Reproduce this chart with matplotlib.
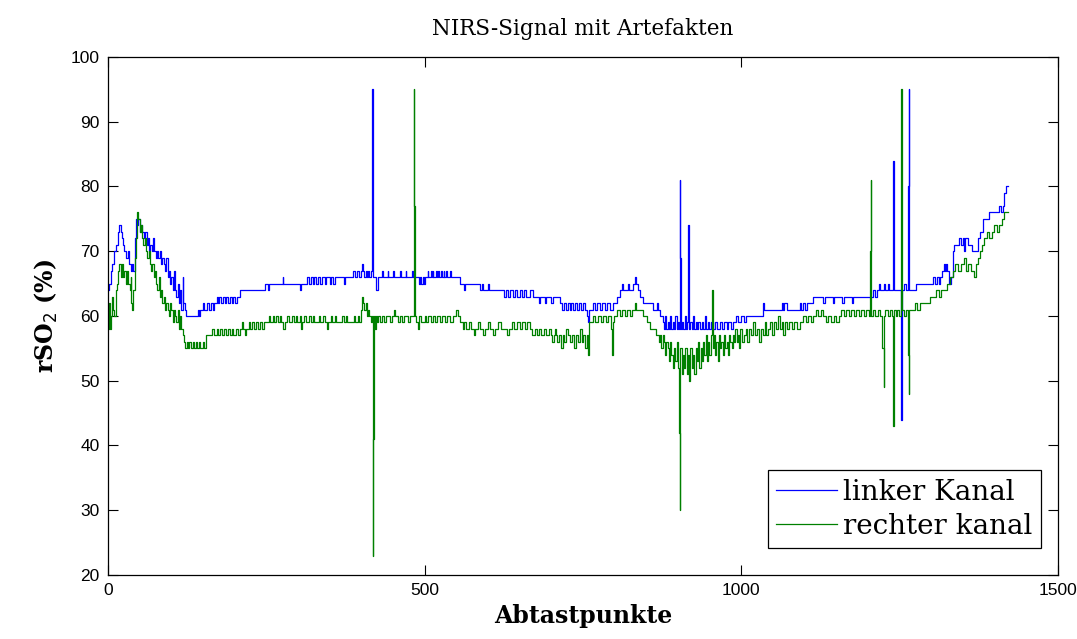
import matplotlib.pyplot as plt

linker_kanal = [
    (0, 64), (2, 65), (4, 67), (7, 68), (9, 70), (12, 71), (15, 73), (18, 74), (20, 73), (22, 72),
    (24, 71), (26, 70), (29, 69), (31, 70), (33, 68), (36, 67), (38, 68), (40, 67), (42, 72), (44, 75),
    (46, 74), (48, 75), (50, 73), (52, 74), (54, 73), (57, 72), (59, 73), (61, 71), (63, 72), (65, 70),
    (67, 71), (69, 70), (71, 72), (73, 70), (75, 69), (77, 70), (79, 69), (82, 70), (84, 68), (86, 69),
    (88, 68), (90, 67), (92, 69), (94, 66), (96, 67), (98, 65), (100, 66), (102, 64), (104, 67), (106, 64),
    (108, 63), (110, 65), (112, 62), (114, 64), (116, 61), (118, 66), (119, 62), (121, 61), (123, 60),
    (142, 61), (144, 60), (146, 61), (150, 62), (152, 61), (156, 62), (160, 61), (163, 62), (166, 61),
    (168, 62), (172, 63), (174, 62), (176, 63), (178, 62), (181, 63), (184, 62), (186, 63), (190, 62),
    (192, 63), (196, 62), (198, 63), (201, 62), (204, 63), (208, 64), (248, 65), (252, 64), (255, 65),
    (276, 66), (277, 65), (303, 65), (304, 64), (305, 65), (314, 66), (317, 65), (320, 66), (323, 65),
    (326, 66), (329, 65), (332, 66), (335, 65), (338, 66), (342, 65), (345, 66), (350, 65), (352, 66),
    (355, 65), (358, 66), (372, 65), (374, 66), (387, 67), (390, 66), (393, 67), (397, 66), (399, 67),
    (401, 68), (403, 67), (405, 66), (407, 67), (409, 66), (411, 67), (413, 66), (415, 67), (417, 95),
    (418, 80), (419, 66), (424, 64), (426, 66), (433, 67), (434, 66), (442, 67), (443, 66), (450, 67),
    (451, 66), (462, 67), (463, 66), (470, 67), (471, 66), (480, 67), (481, 66), (491, 65), (493, 66),
    (495, 65), (497, 66), (499, 65), (501, 66), (505, 67), (506, 66), (510, 67), (511, 66), (513, 67),
    (514, 66), (518, 67), (519, 66), (522, 67), (523, 66), (526, 67), (527, 66), (530, 67), (531, 66),
    (534, 67), (535, 66), (540, 67), (541, 66), (556, 65), (562, 64), (564, 65), (572, 65), (587, 64),
    (590, 65), (592, 64), (600, 65), (602, 64), (619, 64), (625, 63), (628, 64), (632, 63), (635, 64),
    (640, 63), (643, 64), (646, 63), (650, 64), (654, 63), (657, 64), (660, 63), (666, 64), (671, 63),
    (680, 62), (682, 63), (690, 62), (692, 63), (700, 62), (703, 63), (714, 62), (717, 61), (720, 62),
    (723, 61), (726, 62), (729, 61), (732, 62), (735, 61), (738, 62), (741, 61), (744, 62), (747, 61),
    (750, 62), (753, 61), (756, 60), (758, 59), (760, 61), (766, 62), (770, 61), (773, 62), (777, 61),
    (780, 62), (785, 61), (788, 62), (793, 61), (797, 62), (804, 63), (808, 64), (812, 65), (814, 64),
    (821, 65), (823, 64), (829, 65), (832, 66), (834, 65), (837, 64), (840, 63), (845, 62), (851, 62),
    (861, 61), (867, 62), (869, 61), (872, 60), (876, 59), (878, 58), (880, 60), (882, 58), (884, 59),
    (886, 58), (888, 60), (890, 58), (892, 59), (894, 58), (896, 60), (898, 58), (900, 59), (902, 58),
    (903, 81), (904, 69), (905, 58), (907, 59), (909, 58), (911, 60), (913, 58), (915, 59), (916, 74),
    (917, 66), (918, 58), (920, 59), (922, 58), (924, 60), (926, 58), (928, 59), (930, 58), (932, 59),
    (935, 58), (938, 59), (940, 58), (943, 60), (945, 58), (948, 59), (950, 58), (953, 59), (956, 58),
    (959, 59), (962, 58), (966, 59), (970, 58), (973, 59), (977, 58), (980, 59), (984, 58), (987, 59),
    (992, 60), (995, 59), (1000, 60), (1004, 59), (1008, 60), (1014, 60), (1030, 60), (1034, 62),
    (1036, 61), (1061, 61), (1064, 62), (1066, 61), (1068, 62), (1072, 61), (1093, 62), (1095, 61),
    (1098, 62), (1101, 61), (1104, 62), (1108, 62), (1113, 63), (1130, 62), (1132, 63), (1145, 62),
    (1147, 63), (1160, 62), (1162, 63), (1175, 62), (1177, 63), (1198, 63), (1208, 64), (1212, 63),
    (1214, 64), (1218, 65), (1220, 64), (1225, 65), (1227, 64), (1232, 65), (1234, 64), (1240, 84),
    (1241, 64), (1245, 64), (1252, 54), (1253, 44), (1254, 64), (1258, 65), (1260, 64), (1264, 80),
    (1265, 95), (1266, 64), (1270, 64), (1277, 65), (1298, 65), (1303, 66), (1306, 65), (1309, 66),
    (1312, 65), (1314, 66), (1318, 67), (1320, 68), (1322, 67), (1324, 68), (1326, 67), (1329, 65),
    (1331, 66), (1334, 70), (1337, 71), (1344, 72), (1348, 71), (1350, 72), (1352, 70), (1354, 72),
    (1358, 71), (1365, 70), (1369, 70), (1374, 72), (1378, 73), (1382, 75), (1387, 75), (1392, 76),
    (1403, 76), (1408, 77), (1411, 76), (1413, 77), (1416, 79), (1419, 80), (1421, 80),
]

rechter_kanal = [
    (0, 58), (2, 62), (3, 58), (5, 60), (6, 63), (8, 61), (10, 60), (12, 64), (14, 65), (16, 67),
    (18, 68), (20, 66), (22, 68), (24, 66), (26, 67), (28, 65), (30, 67), (32, 65), (34, 64), (36, 66),
    (37, 62), (38, 61), (40, 64), (42, 69), (44, 72), (46, 76), (48, 75), (50, 73), (52, 74), (54, 72),
    (56, 71), (58, 72), (60, 70), (62, 69), (64, 70), (66, 68), (68, 67), (70, 68), (72, 66), (74, 67),
    (76, 65), (78, 64), (80, 66), (82, 63), (84, 64), (86, 62), (88, 63), (90, 61), (92, 62), (94, 61),
    (96, 60), (98, 62), (100, 61), (102, 59), (104, 61), (106, 60), (108, 59), (110, 61), (112, 58),
    (114, 60), (116, 58), (118, 57), (120, 56), (122, 55), (124, 56), (126, 55), (128, 56), (131, 55),
    (134, 56), (136, 55), (139, 56), (141, 55), (144, 56), (146, 55), (150, 56), (152, 55), (155, 57),
    (165, 58), (167, 57), (172, 58), (174, 57), (177, 58), (180, 57), (183, 58), (186, 57), (190, 58),
    (193, 57), (196, 58), (198, 57), (202, 58), (205, 57), (208, 58), (211, 59), (213, 58), (216, 57),
    (218, 58), (222, 59), (224, 58), (228, 59), (231, 58), (234, 59), (237, 58), (240, 59), (243, 58),
    (246, 59), (254, 60), (256, 59), (260, 60), (262, 59), (266, 60), (268, 59), (272, 60), (274, 59),
    (277, 58), (279, 59), (283, 60), (286, 59), (290, 60), (293, 59), (297, 60), (299, 59), (303, 60),
    (305, 58), (307, 59), (310, 60), (313, 59), (318, 60), (320, 59), (324, 60), (326, 59), (333, 60),
    (335, 59), (340, 60), (342, 59), (346, 58), (348, 59), (352, 60), (354, 59), (358, 60), (360, 59),
    (370, 60), (372, 59), (376, 60), (378, 59), (388, 60), (390, 59), (395, 60), (397, 59), (400, 61),
    (401, 63), (403, 62), (405, 61), (407, 62), (409, 60), (411, 61), (413, 60), (415, 59), (417, 60),
    (418, 23), (419, 41), (420, 60), (421, 58), (423, 60), (425, 59), (427, 60), (430, 59), (433, 60),
    (436, 59), (439, 60), (446, 59), (449, 60), (452, 61), (454, 60), (458, 59), (461, 60), (464, 59),
    (467, 60), (474, 59), (477, 60), (483, 95), (484, 77), (485, 60), (487, 59), (490, 58), (492, 60),
    (495, 59), (500, 60), (503, 59), (506, 60), (510, 59), (513, 60), (517, 59), (520, 60), (524, 59),
    (528, 60), (532, 59), (536, 60), (540, 59), (545, 60), (550, 61), (553, 60), (556, 59), (560, 58),
    (563, 59), (566, 58), (570, 59), (574, 58), (578, 57), (580, 58), (584, 59), (588, 58), (592, 57),
    (596, 58), (600, 59), (604, 58), (608, 57), (612, 58), (616, 59), (620, 58), (630, 57), (634, 58),
    (638, 59), (642, 58), (646, 59), (650, 58), (654, 59), (658, 58), (662, 59), (666, 58), (670, 57),
    (674, 58), (677, 57), (680, 58), (684, 57), (688, 58), (692, 57), (696, 58), (700, 57), (702, 56),
    (704, 57), (706, 58), (708, 57), (710, 56), (713, 57), (716, 55), (718, 57), (721, 56), (724, 58),
    (727, 57), (730, 56), (733, 57), (736, 55), (739, 57), (742, 56), (745, 58), (748, 56), (751, 57),
    (754, 55), (756, 57), (758, 54), (760, 59), (766, 60), (770, 59), (774, 60), (778, 59), (782, 60),
    (786, 59), (790, 60), (794, 58), (796, 54), (797, 59), (800, 60), (804, 61), (808, 60), (812, 61),
    (816, 60), (820, 61), (824, 60), (828, 61), (832, 62), (834, 61), (845, 60), (851, 59), (856, 58),
    (866, 57), (870, 56), (872, 57), (874, 55), (876, 57), (878, 56), (880, 54), (882, 56), (884, 55),
    (886, 53), (888, 56), (890, 54), (892, 52), (894, 55), (896, 53), (898, 56), (900, 52), (902, 42),
    (903, 30), (904, 55), (906, 51), (908, 54), (910, 52), (912, 55), (914, 51), (916, 54), (918, 50),
    (920, 55), (922, 52), (924, 54), (926, 51), (928, 55), (930, 53), (932, 56), (934, 52), (936, 55),
    (938, 53), (940, 56), (942, 54), (944, 57), (946, 53), (948, 56), (950, 54), (952, 57), (954, 64),
    (955, 55), (957, 57), (959, 54), (961, 56), (963, 53), (965, 57), (967, 55), (969, 56), (971, 54),
    (973, 57), (975, 55), (977, 56), (979, 54), (981, 57), (983, 56), (985, 55), (987, 57), (989, 56),
    (991, 58), (993, 56), (995, 57), (997, 55), (999, 58), (1001, 56), (1004, 57), (1007, 58), (1010, 56),
    (1013, 58), (1016, 57), (1019, 59), (1022, 57), (1025, 58), (1028, 56), (1031, 58), (1034, 57),
    (1037, 59), (1040, 57), (1043, 58), (1046, 59), (1049, 57), (1052, 59), (1055, 58), (1058, 60),
    (1061, 58), (1064, 59), (1067, 57), (1070, 59), (1073, 58), (1076, 59), (1080, 58), (1084, 59),
    (1088, 58), (1093, 59), (1098, 60), (1102, 59), (1106, 60), (1110, 59), (1114, 60), (1118, 61),
    (1122, 60), (1126, 61), (1130, 60), (1134, 59), (1138, 60), (1142, 59), (1146, 60), (1150, 59),
    (1154, 60), (1158, 61), (1162, 60), (1166, 61), (1170, 60), (1174, 61), (1178, 60), (1182, 61),
    (1186, 60), (1190, 61), (1194, 60), (1198, 61), (1202, 60), (1203, 70), (1205, 81), (1206, 60),
    (1208, 61), (1212, 60), (1216, 61), (1220, 60), (1223, 55), (1225, 49), (1226, 60), (1228, 61),
    (1232, 60), (1236, 61), (1239, 60), (1240, 43), (1241, 61), (1244, 60), (1247, 61), (1250, 60),
    (1252, 78), (1253, 95), (1254, 61), (1257, 60), (1260, 61), (1263, 54), (1265, 48), (1266, 61),
    (1274, 62), (1278, 61), (1282, 62), (1298, 63), (1308, 64), (1312, 63), (1316, 64), (1326, 65),
    (1330, 66), (1334, 67), (1338, 68), (1343, 67), (1348, 68), (1352, 69), (1355, 67), (1358, 68),
    (1363, 67), (1368, 66), (1371, 68), (1374, 69), (1377, 70), (1380, 71), (1384, 72), (1388, 73),
    (1392, 72), (1396, 73), (1400, 74), (1404, 73), (1408, 74), (1412, 75), (1416, 76), (1421, 76),
]

x_ticks = [0, 500, 1000, 1500]
y_ticks = [20, 30, 40, 50, 60, 70, 80, 90, 100]

tick_font = ['Liberation Sans Narrow', 'Liberation Sans', 'DejaVu Sans']
text_font = 'DejaVu Serif'

fig = plt.figure(figsize=(10.77, 6.39), dpi=100)
ax = fig.add_axes([0.1003, 0.1002, 0.8817, 0.8106])

x_l, y_l = zip(*linker_kanal)
x_r, y_r = zip(*rechter_kanal)
ax.plot(x_l, y_l, drawstyle='steps-post', color=(0, 0, 1), lw=0.9, label='linker Kanal')
ax.plot(x_r, y_r, drawstyle='steps-post', color=(0, 0.5, 0), lw=0.9, label='rechter kanal')

ax.set_xlim(0, 1500)
ax.set_ylim(20, 100)
ax.set_xticks(x_ticks)
ax.set_yticks(y_ticks)
ax.tick_params(direction='in', length=7, width=0.8, top=True, right=True, pad=6)
for lab in ax.get_xticklabels() + ax.get_yticklabels():
    lab.set_fontfamily(tick_font)
    lab.set_fontsize(12.5)
for s in ax.spines.values():
    s.set_linewidth(0.9)

ax.set_title('NIRS-Signal mit Artefakten', fontfamily=text_font, fontsize=15.5, pad=16)
ax.set_xlabel('Abtastpunkte', fontfamily=text_font, fontsize=17, fontweight='bold', labelpad=4)
ax.set_ylabel('rSO$_2$ (%)', fontfamily=text_font, fontsize=17, fontweight='bold', labelpad=8)

leg = ax.legend(loc='lower right', bbox_to_anchor=(0.982, 0.052), borderaxespad=0,
                prop={'family': text_font, 'size': 20}, fancybox=False, framealpha=1,
                edgecolor='black', handlelength=2.2, handletextpad=0.2, borderpad=0.3,
                labelspacing=0.25)
leg.get_frame().set_linewidth(0.9)

plt.savefig('out.png', dpi=100)
